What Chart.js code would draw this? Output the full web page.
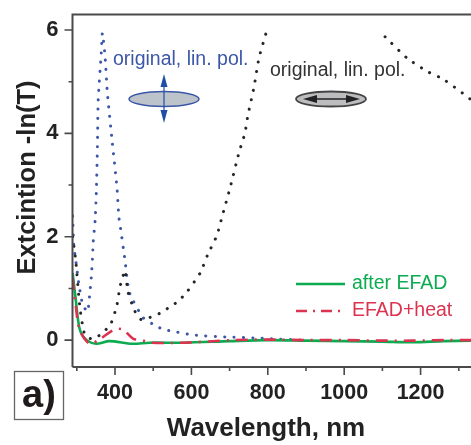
<!DOCTYPE html>
<html><head><meta charset="utf-8">
<style>html,body{margin:0;padding:0;background:#fff}#w{width:471px;height:445px;position:relative}canvas{filter:blur(0.45px)}</style>
<script src="https://cdn.jsdelivr.net/npm/chart.js@4"></script>
</head><body><div id="w"><canvas id="c" width="471" height="445"></canvas></div>
<script>
const blueX=[289,292,298,305,315,328,333,338,341,343,348,351,354,356,364,367,374,380,393,405,410,413,426,436,447,473,499,525,552,604,693,774,797,900];
const blueY=[2.4,1.84,1.5,1.1,0.7,0.55,0.83,1.22,1.58,1.9,2.32,2.84,3.74,4.64,5.55,5.94,5.48,4.78,3.81,2.96,2.38,2.24,1.55,0.96,0.77,0.44,0.31,0.21,0.17,0.1,0.06,0.04,0.03,0];
const blackX=[289,297,308,321,342,369,390,405,413,421,426,434,452,468,492,518,539,565,588,623,643,667,680,701,725,740,748,764,777,797,950,1107,1164,1217,1259,1324,1332];
const blackY=[2.0,1.55,0.64,0.1,0.02,0.15,0.33,0.68,1.03,1.24,1.35,0.93,0.56,0.4,0.44,0.52,0.62,0.75,0.93,1.3,1.66,2.03,2.38,2.94,3.64,4.0,4.35,4.9,5.46,5.98,null,5.87,5.46,5.2,5.05,4.7,4.65];
const greenX=[289,297,308,326,351,385,445,490,580,700,800,900,1000,1100,1180,1260,1332];
const greenY=[1.3,0.8,0.2,0,-0.07,-0.02,-0.07,-0.05,-0.05,-0.02,0,-0.01,-0.02,-0.03,-0.04,-0.02,-0.01];
const redX=[289,297,308,334,360,400,421,447,470,492,580,710,800,900,1000,1100,1180,1260,1332];
const redY=[1.2,0.68,0.19,-0.07,0.02,0.21,0.2,0.03,0,-0.05,-0.05,0,0.01,0,0,-0.01,-0.01,0,0];
const xTicks=[400,600,800,1000,1200];
const xMinor=[300,500,700,900,1100,1300];
const yTicks=[0,2,4,6];
const yMinor=[1,3,5];
const xTitle="Wavelength, nm";
const yTitle="Extcintion -ln(T)";
const panelLabel="a)";
const noteBlue="original, lin. pol.";
const noteBlack="original, lin. pol.";
const seriesGreen="after EFAD";
const seriesRed="EFAD+heat";

const pts=(xs,ys)=>xs.map((x,i)=>({x,y:ys[i]}));
const AX="#4a4a4d",BLUE="#3c57a8",BLACK="#262626",GREEN="#0cab50",RED="#dc3350";
const FF='"Liberation Sans",Arial,sans-serif';
function noPad(s){s.paddingTop=0;s.paddingBottom=0;s.paddingLeft=0;s.paddingRight=0}
function arrowHead(g,x,y,dx,dy,len,half){
  g.beginPath();g.moveTo(x,y);
  g.lineTo(x-dx*len-dy*half,y-dy*len-dx*half);
  g.lineTo(x-dx*len+dy*half,y-dy*len+dx*half);
  g.closePath();g.fill();
}
const deco={id:'deco',
 afterDatasetsDraw(ch){
  const g=ch.ctx,a=ch.chartArea,sx=ch.scales.x,sy=ch.scales.y;
  g.save();
  g.strokeStyle=AX;g.lineWidth=2;
  g.beginPath();g.moveTo(a.left,a.bottom);g.lineTo(a.left,a.top);g.lineTo(a.right,a.top);
  g.moveTo(a.left,a.bottom);g.lineTo(a.right,a.bottom);g.stroke();
  g.lineWidth=1.6;g.beginPath();
  yTicks.forEach(v=>{const p=sy.getPixelForValue(v);g.moveTo(a.left,p);g.lineTo(a.left-8,p)});
  yMinor.forEach(v=>{const p=sy.getPixelForValue(v);g.moveTo(a.left,p);g.lineTo(a.left-4,p)});
  xTicks.forEach(v=>{const p=sx.getPixelForValue(v);g.moveTo(p,a.bottom);g.lineTo(p,a.bottom+8)});
  xMinor.forEach(v=>{const p=sx.getPixelForValue(v);g.moveTo(p,a.bottom);g.lineTo(p,a.bottom+4)});
  g.stroke();
  g.textBaseline='middle';g.textAlign='left';
  g.font='19.5px '+FF;
  g.fillStyle=BLUE;g.fillText(noteBlue,113,60);
  g.fillStyle='#333';g.fillText(noteBlack,270,71);
  g.fillStyle=GREEN;g.fillText(seriesGreen,352,284);
  g.fillStyle=RED;g.fillText(seriesRed,352,311);
  g.strokeStyle=GREEN;g.lineWidth=2.5;g.beginPath();g.moveTo(296,284);g.lineTo(345,284);g.stroke();
  g.strokeStyle=RED;g.setLineDash([11,6,2,6]);g.beginPath();g.moveTo(296,311);g.lineTo(342,311);g.stroke();g.setLineDash([]);
  // blue ellipse with vertical arrow
  g.fillStyle='#bcc3cb';g.strokeStyle=BLUE;g.lineWidth=1.5;
  g.beginPath();g.ellipse(164,99,35,7.5,0,0,7);g.fill();g.stroke();
  g.strokeStyle='#1f4fa5';g.fillStyle='#1f4fa5';g.lineWidth=1.2;
  g.beginPath();g.moveTo(164,80);g.lineTo(164,118);g.stroke();
  arrowHead(g,164,74,0,-1,13,3.5);arrowHead(g,164,123,0,1,13,3.5);
  // black ellipse with horizontal arrow
  g.fillStyle='#bdbdc0';g.strokeStyle='#444';g.lineWidth=1.8;
  g.beginPath();g.ellipse(331,99,35,7.5,0,0,7);g.fill();g.stroke();
  g.strokeStyle='#222';g.fillStyle='#222';g.lineWidth=1.4;
  g.beginPath();g.moveTo(308,99);g.lineTo(354,99);g.stroke();
  arrowHead(g,303,99,-1,0,14,4);arrowHead(g,360,99,1,0,14,4);
  // panel label
  g.strokeStyle='#666';g.lineWidth=1.3;g.strokeRect(14.5,371.5,49,48);
  g.fillStyle='#201a1a';g.font='bold 38px '+FF;g.textAlign='center';g.fillText(panelLabel,39,397);
  // axis titles
  g.fillStyle='#222';g.font='bold 26px '+FF;g.fillText(xTitle,266,429);
  g.save();g.translate(28,177.5);g.rotate(-Math.PI/2);g.font='bold 25.5px '+FF;g.fillText(yTitle,0,0);g.restore();
  g.restore();
 }};
new Chart(document.getElementById('c'),{
 type:'line',
 data:{datasets:[
  {label:'original, perpendicular',order:3,data:pts(blueX,blueY),borderColor:BLUE,borderWidth:3,borderDash:[0.1,9.3],borderCapStyle:'round',pointRadius:0,tension:0.2},
  {label:'original, parallel',order:2,data:pts(blackX,blackY),borderColor:BLACK,borderWidth:3,borderDash:[0.1,9.5],borderCapStyle:'round',pointRadius:0,tension:0.2,spanGaps:false},
  {label:seriesGreen,order:1,data:pts(greenX,greenY),borderColor:GREEN,borderWidth:2.6,pointRadius:0,tension:0.3},
  {label:seriesRed,order:0,data:pts(redX,redY),borderColor:RED,borderWidth:2.6,borderDash:[12,7,2,7],pointRadius:0,tension:0.3}
 ]},
 options:{
  responsive:false,animation:false,
  layout:{padding:{top:14.5,left:0,right:0,bottom:0}},
  plugins:{legend:{display:false},tooltip:{enabled:false}},
  scales:{
   x:{type:'linear',min:288.7,max:1332,
    afterFit(s){s.height=78;noPad(s)},
    afterBuildTicks(s){s.ticks=xTicks.map(v=>({value:v}))},
    grid:{display:false,drawTicks:false},border:{display:false},
    ticks:{color:'#222',font:{family:FF,size:21.5,weight:'bold'},padding:13,maxRotation:0,autoSkip:false,callback:v=>String(v)}},
   y:{min:-0.52,max:6.3,
    afterFit(s){s.width=72.5;noPad(s)},
    afterBuildTicks(s){s.ticks=yTicks.map(v=>({value:v}))},
    grid:{display:false,drawTicks:false},border:{display:false},
    ticks:{color:'#222',font:{family:FF,size:22,weight:'bold'},padding:14,autoSkip:false,callback:v=>String(v)}}
  }
 },
 plugins:[deco]
});
</script></body></html>
